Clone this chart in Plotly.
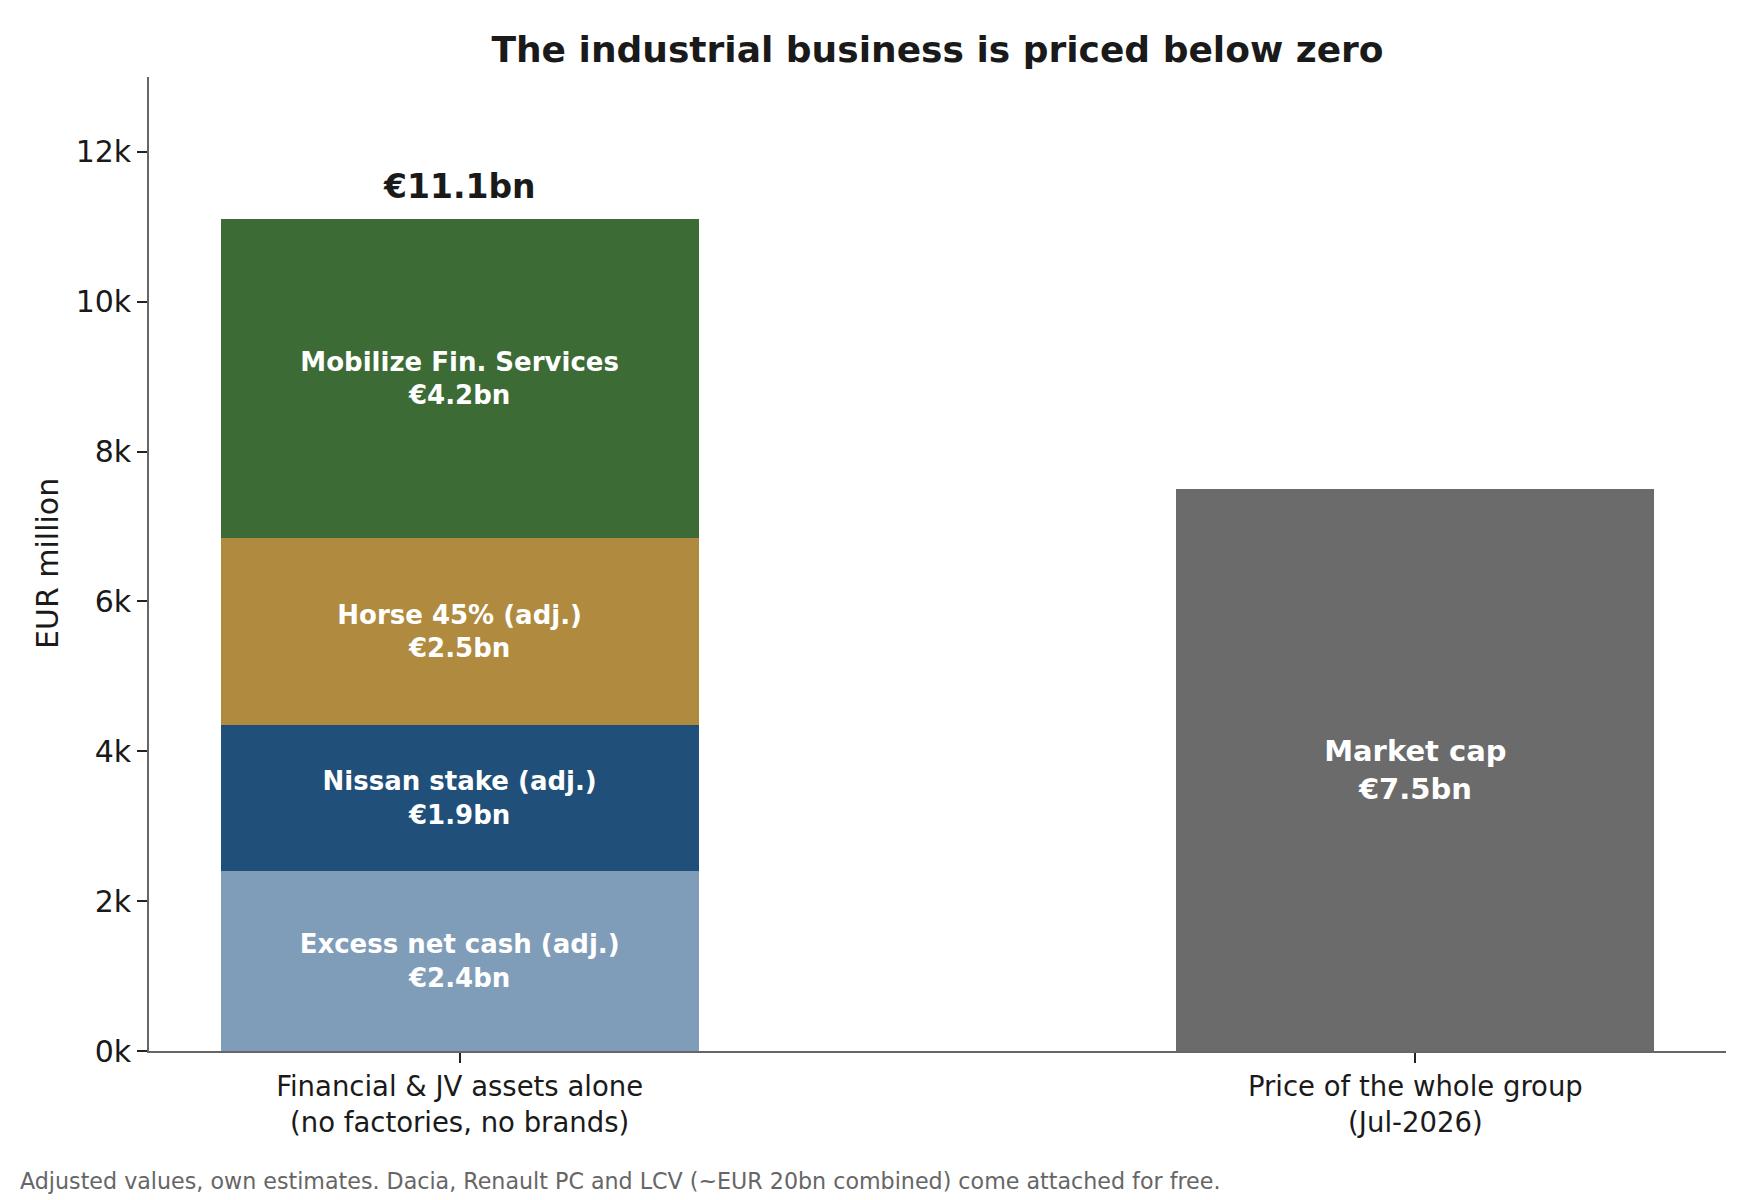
import plotly.graph_objects as go

# ---- data ----
categories = ["Financial & JV assets alone<br>(no factories, no brands)",
              "Price of the whole group<br>(Jul-2026)"]
segment_names = ["Excess net cash (adj.)", "Nissan stake (adj.)",
                 "Horse 45% (adj.)", "Mobilize Fin. Services"]
segment_values = [2400, 1950, 2500, 4250]          # EUR million
segment_colors = ["#7f9db9", "#204f79", "#b08b3f", "#3d6b36"]
market_cap_name = "Market cap"
market_cap_value = [7500]
market_cap_color = "#6b6b6b"
y_tickvals = [0, 2000, 4000, 6000, 8000, 10000, 12000]
y_ticktext = ["0k", "2k", "4k", "6k", "8k", "10k", "12k"]

FONT = "DejaVu Sans"
W, H = 1760, 1200
L, R, T, B = 149, 34, 77, 149
plot_w = W - L - R
plot_h = H - T - B

def bn(v):
    return f"€{v/1000:.1f}bn"

fig = go.Figure()
for name, val, col in zip(segment_names, segment_values, segment_colors):
    fig.add_trace(go.Bar(
        x=[categories[0]], y=[val], width=0.5,
        marker=dict(color=col, line=dict(width=0)),
        text=[f"{name}<br>{bn(val)}"],
        textposition="inside", insidetextanchor="middle",
        textfont=dict(family=FONT, size=26, color="white", weight="bold"),
        constraintext="none", showlegend=False, hoverinfo="skip",
    ))

fig.add_trace(go.Bar(
    x=[categories[1]], y=market_cap_value, width=0.5,
    marker=dict(color=market_cap_color, line=dict(width=0)),
    text=[f"{market_cap_name}<br>{bn(market_cap_value[0])}"],
    textposition="inside", insidetextanchor="middle",
    textfont=dict(family=FONT, size=29, color="white", weight="bold"),
    constraintext="none", showlegend=False, hoverinfo="skip",
))

total = sum(segment_values)
annotations = [
    dict(x=categories[0], y=total, xref="x", yref="y", text=bn(total),
         showarrow=False, yanchor="bottom", yshift=11,
         font=dict(family=FONT, size=33, color="#1a1a1a", weight="bold")),
    dict(x=(47 - L) / plot_w, y=0.5, xref="paper", yref="paper",
         text="EUR million", textangle=-90, showarrow=False,
         xanchor="center", yanchor="middle",
         font=dict(family=FONT, size=30, color="#1a1a1a")),
    dict(x=(18 - L) / plot_w, y=-(1181 - (T + plot_h)) / plot_h,
         xref="paper", yref="paper", xanchor="left", yanchor="middle",
         text="Adjusted values, own estimates. Dacia, Renault PC and LCV "
              "(~EUR 20bn combined) come attached for free.",
         showarrow=False, font=dict(family=FONT, size=22.2, color="#666666")),
]

fig.update_layout(
    width=W, height=H,
    margin=dict(l=L, r=R, t=T, b=B, pad=0),
    barmode="stack",
    paper_bgcolor="white", plot_bgcolor="white",
    font=dict(family=FONT, color="#1a1a1a"),
    title=dict(text="The industrial business is priced below zero",
               x=(L + plot_w / 2) / W, xanchor="center",
               y=1 - 49 / H, yanchor="middle", yref="container",
               font=dict(family=FONT, size=36, color="#1a1a1a", weight="bold")),
    xaxis=dict(type="category", categoryorder="array", categoryarray=categories,
               range=[-0.325, 1.325], showline=True, linecolor="#666666",
               linewidth=1.6, ticks="outside", ticklen=10, tickwidth=1.6,
               tickcolor="#222222", showgrid=False, zeroline=False,
               tickfont=dict(family=FONT, size=27.5, color="#1a1a1a")),
    yaxis=dict(range=[0, 13000], tickvals=y_tickvals, ticktext=y_ticktext,
               showline=True, linecolor="#666666", linewidth=1.6,
               ticks="outside", ticklen=10, tickwidth=1.6, tickcolor="#222222",
               showgrid=False, zeroline=False,
               tickfont=dict(family=FONT, size=30, color="#1a1a1a")),
    annotations=annotations,
)

fig.write_html("out.html")
